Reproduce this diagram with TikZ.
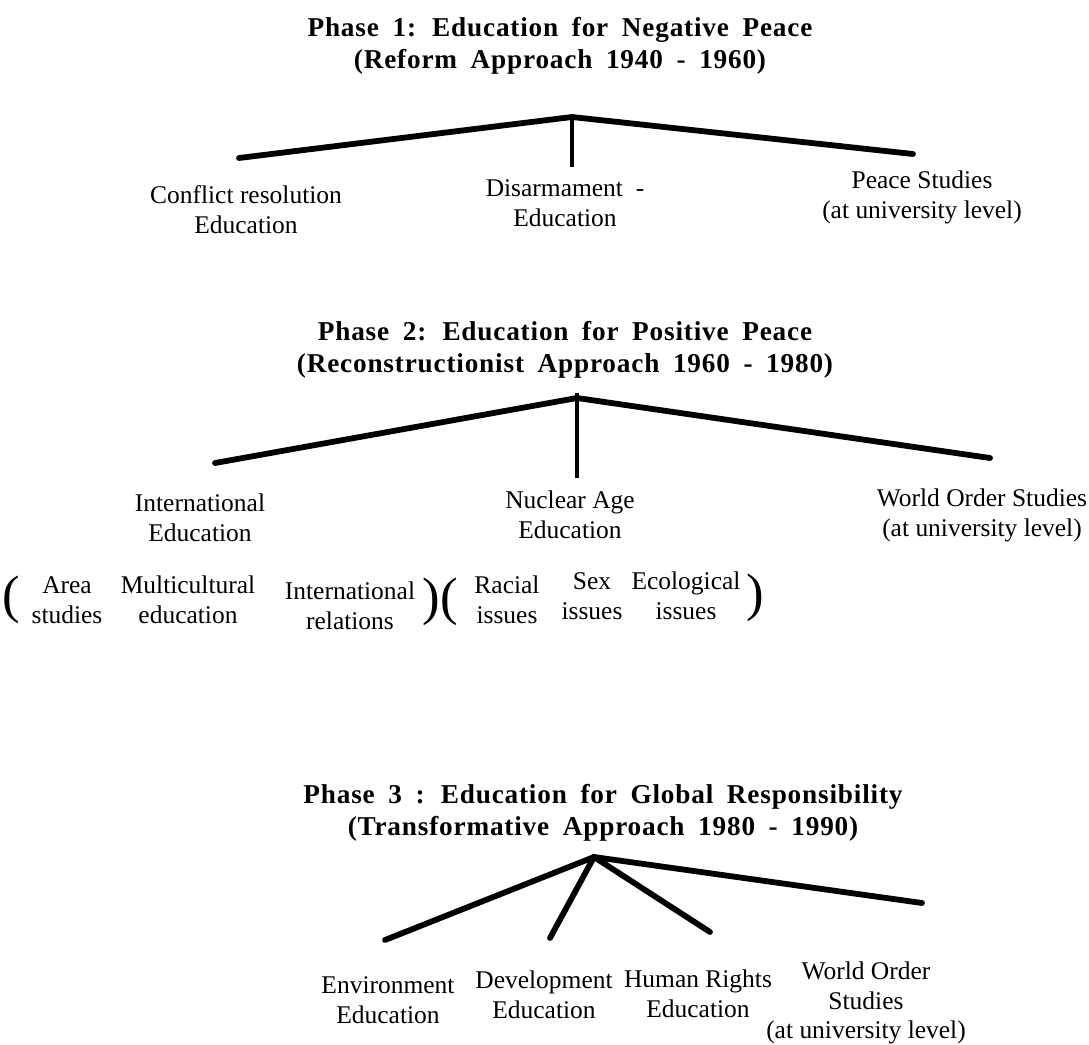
\documentclass[tikz,border=0pt]{standalone}
\usepackage{fontspec}
\setmainfont{Liberation Serif}
\newfontfamily\headfam{Liberation Serif}[LetterSpace=3]
\newcommand\myheadfont{\headfam\bfseries\fontsize{15.5}{18}\selectfont\spaceskip=0.5em plus 0.1em\relax}
\tikzset{
  headtext/.style={align=center, inner sep=0pt, font=\myheadfont},
  lbl/.style={align=center, inner sep=0pt, font=\fontsize{14.5}{17}\selectfont},
  paren/.style={inner sep=0pt, font=\fontsize{30}{30}\selectfont},
  thickline/.style={line width=3.3pt, line cap=round},
  thinline/.style={line width=2pt},
}
\begin{document}
\begin{tikzpicture}[x=0.02cm, y=-0.02cm]
\useasboundingbox (0,0) rectangle (1089,1045);

% ---------- Phase 1 ----------
\node[headtext] (h1) at (560,46) {Phase 1: Education for Negative Peace\\(Reform Approach 1940 - 1960)};
\coordinate (a1) at (572,117);
\coordinate (l1) at (239,158);
\coordinate (r1) at (913,154);
\coordinate (v1) at (572,167);
\draw[thickline] (l1) -- (a1) -- (r1);
\draw[thinline] (a1) -- (v1);
\node[lbl] (p1a) at (246,210) {Conflict resolution\\Education};
\node[lbl] (p1b) at (565,203) {Disarmament \ -\\Education};
\node[lbl] (p1c) at (922,197) {Peace Studies\\(at university level)};

% ---------- Phase 2 ----------
\node[headtext] (h2) at (565,350) {Phase 2: Education for Positive Peace\\(Reconstructionist Approach 1960 - 1980)};
\coordinate (a2) at (577,398);
\coordinate (l2) at (215,463);
\coordinate (r2) at (990,458);
\coordinate (t2) at (577,393);
\coordinate (v2) at (577,478);
\draw[thickline] (l2) -- (a2) -- (r2);
\draw[thinline] (t2) -- (v2);
\node[lbl] (p2a) at (200,518) {International\\Education};
\node[lbl] (p2b) at (570,515) {Nuclear Age\\Education};
\node[lbl] (p2c) at (982,515) {World Order Studies\\(at university level)};

% ---------- bracketed subtopics ----------
\node[paren] (o1) at (11,600) {(};
\node[lbl] (s1) at (67,600) {Area\\studies};
\node[lbl] (s2) at (188,600) {Multicultural\\education};
\node[lbl] (s3) at (350,606) {International\\relations};
\node[paren] (c1) at (431,602) {)};
\node[paren] (o2) at (449,602) {(};
\node[lbl] (s4) at (507,600) {Racial\\issues};
\node[lbl] (s5) at (592,596) {Sex\\issues};
\node[lbl] (s6) at (686,596) {Ecological\\issues};
\node[paren] (c2) at (755,598) {)};

% ---------- Phase 3 ----------
\node[headtext] (h3) at (603,813) {Phase 3 : Education for Global Responsibility\\(Transformative Approach 1980 - 1990)};
\coordinate (a3) at (594,857);
\coordinate (e1) at (385,940);
\coordinate (e2) at (550,938);
\coordinate (e3) at (710,932);
\coordinate (e4) at (922,903);
\draw[thickline] (e1) -- (a3) -- (e4);
\draw[thickline] (a3) -- (e2);
\draw[thickline] (a3) -- (e3);
\node[lbl] (p3a) at (388,1000) {Environment\\Education};
\node[lbl] (p3b) at (544,995) {Development\\Education};
\node[lbl] (p3c) at (698,994) {Human Rights\\Education};
\node[lbl] (p3d) at (866,1003) {World Order\\Studies\\(at university level)};
\end{tikzpicture}
\end{document}
